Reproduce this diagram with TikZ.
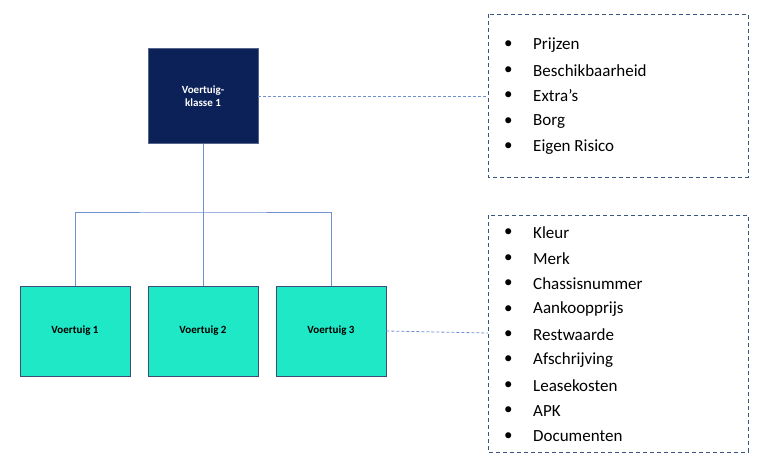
\documentclass[tikz,border=0pt]{standalone}
\usepackage{fontspec}
\setmainfont{Carlito}
\definecolor{navy}{HTML}{0C2157}
\definecolor{teal}{HTML}{1EE8C6}
\definecolor{line}{HTML}{6F8FD0}
\definecolor{dash}{HTML}{3A5580}
\begin{document}
\begin{tikzpicture}[x=1pt,y=-1pt,
  topbox/.style={draw=navy!70!white,fill=navy,text=white,font=\bfseries\fontsize{11}{13}\selectfont,align=center,minimum width=110pt,minimum height=95pt,line width=0.8pt},
  vbox/.style={draw=navy!80,fill=teal,text=black,font=\bfseries\fontsize{11}{13}\selectfont,minimum width=110pt,minimum height=90pt,line width=0.8pt},
  listbox/.style={draw=dash,dashed,line width=1pt,dash pattern=on 4pt off 3pt},
  conn/.style={draw=line,line width=0.8pt},
  dconn/.style={draw=line,line width=0.8pt,dash pattern=on 3pt off 2pt},
  item/.style={anchor=west,font=\fontsize{17}{20}\selectfont,inner sep=0pt}]
\useasboundingbox (0,0) rectangle (767,474);
\node[topbox] (k) at (203,96) {Voertuig-\\klasse 1};
\node[vbox] (v1) at (75,331) {Voertuig 1};
\node[vbox] (v2) at (203,331) {Voertuig 2};
\node[vbox] (v3) at (331,331) {Voertuig 3};
\coordinate (j) at (203,212);
\draw[conn] (k.south) -- (j);
\draw[conn] (v1.north) |- (j) -| (v3.north);
\draw[conn] (j) -- (v2.north);
\draw[listbox] (488,14) rectangle (748,177);
\draw[listbox] (488,215) rectangle (748,452);
\node[minimum size=0pt,inner sep=0pt] (l1) at (488,96) {};
\node[minimum size=0pt,inner sep=0pt] (l2) at (488,333) {};
\draw[dconn] (k.east) -- (l1);
\draw[dconn] (v3.east) -- (l2);
\foreach \t [count=\i] in {Prijzen,Beschikbaarheid,Extra’s,Borg,Eigen Risico}{
  \node[item] at (504,{45+25.5*(\i-1)}) {•};
  \node[item] (a\i) at (533,{45+25.5*(\i-1)}) {\t};
}
\foreach \t [count=\i] in {Kleur,Merk,Chassisnummer,Aankoopprijs,Restwaarde,Afschrijving,Leasekosten,APK,Documenten}{
  \node[item] at (504,{233+25.4*(\i-1)}) {•};
  \node[item] (b\i) at (533,{233+25.4*(\i-1)}) {\t};
}
\end{tikzpicture}
\end{document}
